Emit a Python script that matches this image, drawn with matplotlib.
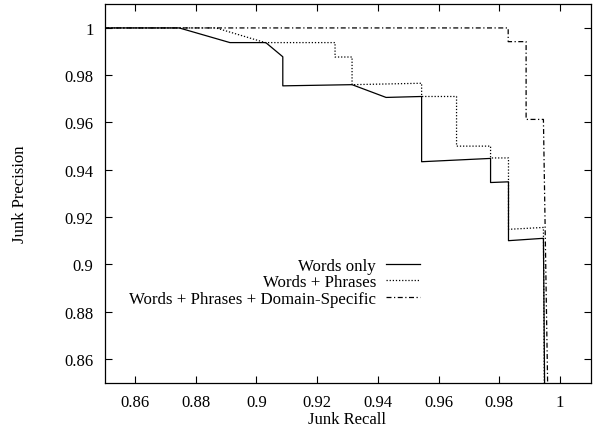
import matplotlib
matplotlib.use("Agg")
import matplotlib.pyplot as plt

plt.rcParams['font.family'] = ['Liberation Serif', 'DejaVu Serif']

# Words only
words_x = [0.85, 0.8746, 0.8913, 0.9031, 0.9087, 0.9087, 0.9315, 0.9427, 0.9544, 0.9544,
           0.9771, 0.9771, 0.9830, 0.9830, 0.9945, 0.9952]
words_y = [1.0, 1.0, 0.9938, 0.9938, 0.9878, 0.9755, 0.9760, 0.9706, 0.9710, 0.9434,
           0.9448, 0.9346, 0.9349, 0.9100, 0.9110, 0.80]

# Words + Phrases
phr_x = [0.85, 0.8867, 0.9029, 0.9259, 0.9259, 0.9315, 0.9315, 0.9544, 0.9544, 0.9659,
         0.9659, 0.9771, 0.9771, 0.9830, 0.9830, 0.9945, 0.9950]
phr_y = [1.0, 1.0, 0.9938, 0.9938, 0.9877, 0.9877, 0.9760, 0.9766, 0.9710, 0.9710,
         0.9500, 0.9500, 0.9450, 0.9450, 0.9148, 0.9156, 0.80]

# Words + Phrases + Domain-Specific
dom_x = [0.85, 0.9829, 0.9829, 0.9888, 0.9888, 0.9945, 0.9965]
dom_y = [1.0, 1.0, 0.9942, 0.9942, 0.9613, 0.9613, 0.80]

labels = ["Words only", "Words + Phrases", "Words + Phrases + Domain-Specific"]
xticks = [0.86, 0.88, 0.9, 0.92, 0.94, 0.96, 0.98, 1.0]
xticklabels = ["0.86", "0.88", "0.9", "0.92", "0.94", "0.96", "0.98", "1"]
yticks = [0.86, 0.88, 0.9, 0.92, 0.94, 0.96, 0.98, 1.0]
yticklabels = ["0.86", "0.88", "0.9", "0.92", "0.94", "0.96", "0.98", "1"]

fig = plt.figure(figsize=(5.94, 4.27), dpi=100)
ax = fig.add_axes([104.5/594, 1 - 383.5/427, (590.5-104.5)/594, (383.5-5.3)/427])

ax.plot(words_x, words_y, color='black', lw=0.9, ls='-', label=labels[0])
ax.plot(phr_x, phr_y, color='black', lw=0.9, ls=(0, (1, 1.5)), label=labels[1])
ax.plot(dom_x, dom_y, color='black', lw=0.9, ls=(0, (4, 2, 1, 2)), label=labels[2])

ax.set_xlim(0.85, 1.01)
ax.set_ylim(0.85, 1.01)
ax.set_xticks(xticks)
ax.set_xticklabels(xticklabels)
ax.set_yticks(yticks)
ax.set_yticklabels(yticklabels)
ax.tick_params(direction='in', length=5, width=0.8, top=True, right=True,
               labelsize=12)
ax.tick_params(axis='x', pad=8.5)
ax.tick_params(axis='y', pad=8)
for s in ax.spines.values():
    s.set_linewidth(0.9)

ax.set_xlabel("Junk Recall", fontsize=12, labelpad=0.3)
ax.set_ylabel("Junk Precision", fontsize=12)
ax.yaxis.set_label_coords(-0.158, 0.5)

leg = ax.legend(loc='upper right', bbox_to_anchor=(420/594, 1 - 259/427),
                bbox_transform=fig.transFigure, frameon=False, fontsize=12.2,
                markerfirst=False, handlelength=2.0, handletextpad=0.6,
                labelspacing=0.02, borderpad=0, borderaxespad=0)
for t in leg.get_texts():
    t.set_ha('right')
leg._legend_box.align = 'right'

fig.savefig("out.png", dpi=100)
